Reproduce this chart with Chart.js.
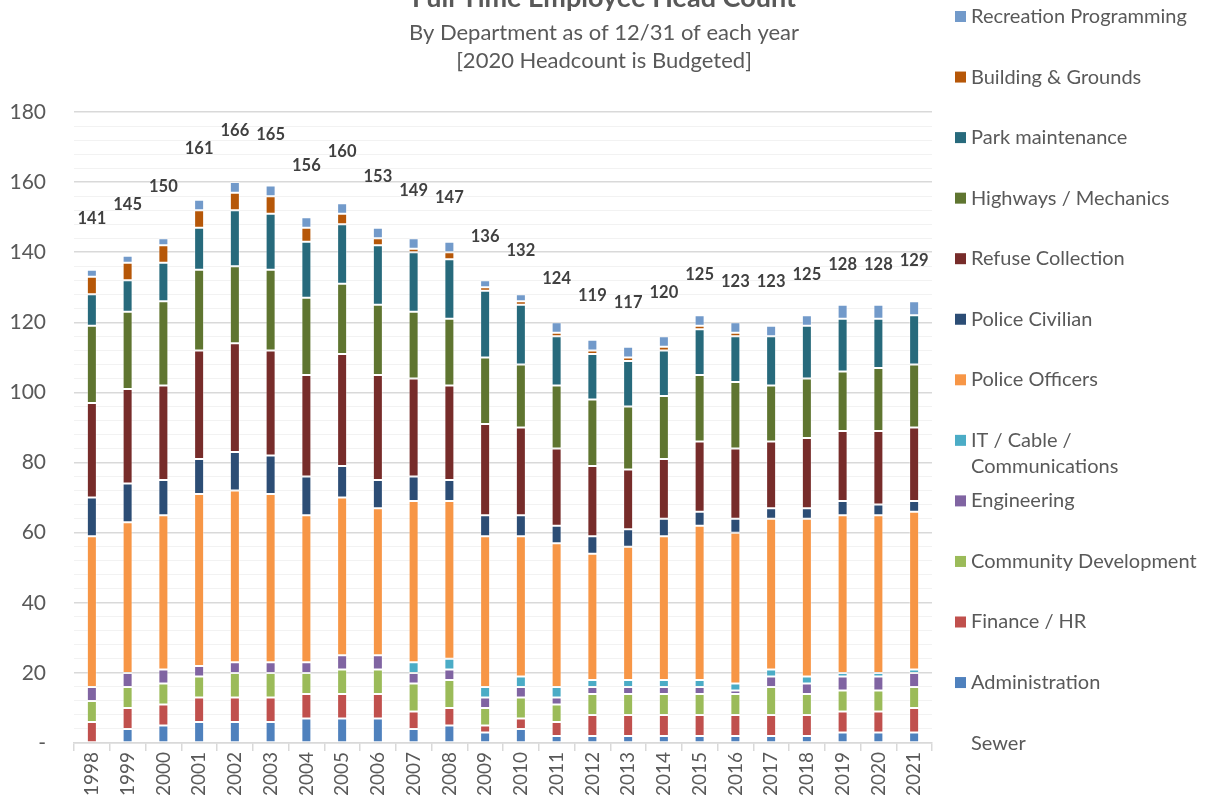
<!DOCTYPE html>
<html>
<head>
<meta charset="utf-8">
<script src="https://cdn.jsdelivr.net/npm/chart.js@4.4.0/dist/chart.umd.min.js"></script>
<style>
  html, body { margin: 0; padding: 0; background: #ffffff; }
  #wrap { width: 1209px; height: 803px; position: relative; }
</style>
</head>
<body>
<div id="wrap"><canvas id="c" width="1209" height="803"></canvas></div>
<script>
const years = ['1998','1999','2000','2001','2002','2003','2004','2005','2006','2007','2008','2009','2010','2011','2012','2013','2014','2015','2016','2017','2018','2019','2020','2021'];
const administration   = [0,4,5,6,6,6,7,7,7,4,5,3,4,2,2,2,2,2,2,2,2,3,3,3];
const financeHR        = [6,6,6,7,7,7,7,7,7,5,5,2,3,4,6,6,6,6,6,6,6,6,6,7];
const communityDev     = [6,6,6,6,7,7,6,7,7,8,8,5,6,5,6,6,6,6,6,8,6,6,6,6];
const engineering      = [4,4,4,3,3,3,3,4,4,3,3,3,3,2,2,2,2,2,1,3,3,4,4,4];
const itCable          = [0,0,0,0,0,0,0,0,0,3,3,3,3,3,2,2,2,2,2,2,2,1,1,1];
const policeOfficers   = [43,43,44,49,49,48,42,45,42,46,45,43,40,41,36,38,41,44,43,43,45,45,45,45];
const policeCivilian   = [11,11,10,10,11,11,11,9,8,7,6,6,6,5,5,5,5,4,4,3,3,4,3,3];
const refuseCollection = [27,27,27,31,31,30,29,32,30,28,27,26,25,22,20,17,17,20,20,19,20,20,21,21];
const highways         = [22,22,24,23,22,23,22,20,20,19,19,19,18,18,19,18,18,19,19,16,17,17,18,18];
const parkMaintenance  = [9,9,11,12,16,16,16,17,17,17,17,19,17,14,13,13,13,13,13,14,15,15,14,14];
const buildingGrounds  = [5,5,5,5,5,5,4,3,2,1,2,1,1,1,1,1,1,1,1,0,0,0,0,0];
const recreation       = [2,2,2,3,3,3,3,3,3,3,3,2,2,3,3,3,3,3,3,3,3,4,4,4];
const sewer            = [6,6,6,6,6,6,6,6,6,5,4,4,4,4,4,4,4,3,3,4,3,3,3,3];
const yTickLabels      = ['-','20','40','60','80','100','120','140','160','180'];

const FONT = 'Lato, "Open Sans", sans-serif';
const TXT = '#595959';

const series = [
  ['Administration', administration, '#4F81BD'],
  ['Finance / HR', financeHR, '#C0504D'],
  ['Community Development', communityDev, '#9BBB59'],
  ['Engineering', engineering, '#8064A2'],
  ['IT / Cable / Communications', itCable, '#4BACC6'],
  ['Police Officers', policeOfficers, '#F79646'],
  ['Police Civilian', policeCivilian, '#2C4D75'],
  ['Refuse Collection', refuseCollection, '#772C2A'],
  ['Highways / Mechanics', highways, '#5F7530'],
  ['Park maintenance', parkMaintenance, '#276A7C'],
  ['Building & Grounds', buildingGrounds, '#B65708'],
  ['Recreation Programming', recreation, '#729ACA'],
  ['Sewer', sewer, 'rgba(0,0,0,0)']
];

const datasets = series.map(([label, data, color]) => ({
  label, data,
  backgroundColor: color,
  borderColor: label === 'Sewer' ? 'rgba(0,0,0,0)' : 'rgba(255,255,255,0.35)',
  borderWidth: ctx => (ctx.raw ? 1 : 0),
  borderSkipped: false,
  stack: 's',
  barPercentage: 0.28,
  categoryPercentage: 1.0
}));

function wrapText(ctx, text, maxW) {
  const words = text.split(' ');
  const lines = [];
  let cur = '';
  for (const w of words) {
    const t = cur ? cur + ' ' + w : w;
    if (ctx.measureText(t).width > maxW && cur) { lines.push(cur); cur = w; }
    else cur = t;
  }
  if (cur) lines.push(cur);
  return lines;
}

const textPlugin = {
  id: 'texts',
  afterDatasetsDraw(chart) {
    const ctx = chart.ctx;
    const ys = chart.scales.y;
    const meta = chart.getDatasetMeta(0);
    ctx.save();
    ctx.font = 'bold 16.5px ' + FONT;
    ctx.fillStyle = '#404040';
    ctx.textAlign = 'center';
    ctx.textBaseline = 'middle';
    years.forEach((yr, i) => {
      let total = 0;
      chart.data.datasets.forEach(ds => { total += ds.data[i] || 0; });
      const x = meta.data[i].x;
      const y = ys.getPixelForValue(total) - 30;
      ctx.fillText(String(total), x, y);
    });
    ctx.restore();
  },
  afterDraw(chart) {
    const ctx = chart.ctx;
    ctx.save();
    ctx.fillStyle = TXT;
    ctx.textAlign = 'center';
    ctx.textBaseline = 'alphabetic';
    ctx.font = 'bold 27px ' + FONT;
    ctx.fillText('Full Time Employee Head Count', 604, 7);
    ctx.font = '22px ' + FONT;
    ctx.textBaseline = 'middle';
    ctx.fillText('By Department as of 12/31 of each year', 604, 33);
    ctx.fillText('[2020 Headcount is Budgeted]', 604, 61);

    // legend: reverse order of the stack, Sewer last
    const all = chart.data.datasets;
    const dsList = all.filter(d => d.label !== 'Sewer').reverse().concat(all.filter(d => d.label === 'Sewer'));
    ctx.textAlign = 'left';
    ctx.font = '20px ' + FONT;
    dsList.forEach((ds, i) => {
      const y = 16.5 + i * 60.55;
      if (ds.label !== 'Sewer') {
        ctx.fillStyle = ds.backgroundColor;
        ctx.fillRect(955, y - 5.5, 11, 11);
      }
      ctx.fillStyle = TXT;
      const lines = wrapText(ctx, ds.label, 232);
      lines.forEach((ln, k) => ctx.fillText(ln, 971, y + k * 26));
    });
    ctx.restore();
  }
};

new Chart(document.getElementById('c'), {
  type: 'bar',
  data: { labels: years, datasets },
  plugins: [textPlugin],
  options: {
    responsive: false,
    animation: false,
    devicePixelRatio: 1,
    layout: { padding: { left: 0, top: 112, right: 277, bottom: 0 } },
    plugins: { legend: { display: false }, title: { display: false }, tooltip: { enabled: false } },
    scales: {
      x: {
        stacked: true,
        afterFit(scale) { scale.height = 60; },
        grid: { drawOnChartArea: false, drawTicks: true, tickLength: 8, color: '#d9d9d9', lineWidth: 1.5, offset: true },
        border: { display: true, color: '#d9d9d9', width: 1.5 },
        ticks: { autoSkip: false, maxRotation: 90, minRotation: 90, padding: 1, color: TXT, font: { family: FONT, size: 19 } }
      },
      y: {
        stacked: true,
        min: 0, max: 180,
        afterFit(scale) { scale.width = 74; },
        grid: {
          drawTicks: false,
          color: ctx => (ctx.tick && ctx.tick.value % 20 === 0 ? '#d9d9d9' : '#f2f2f2'),
          lineWidth: ctx => (ctx.tick && ctx.tick.value % 20 === 0 ? 1.5 : 1)
        },
        border: { display: false },
        ticks: {
          stepSize: 4, autoSkip: false, padding: 28, color: TXT,
          font: { family: FONT, size: 21 },
          callback: v => (v % 20 === 0 ? yTickLabels[v / 20] : '')
        }
      }
    }
  }
});
</script>
</body>
</html>
